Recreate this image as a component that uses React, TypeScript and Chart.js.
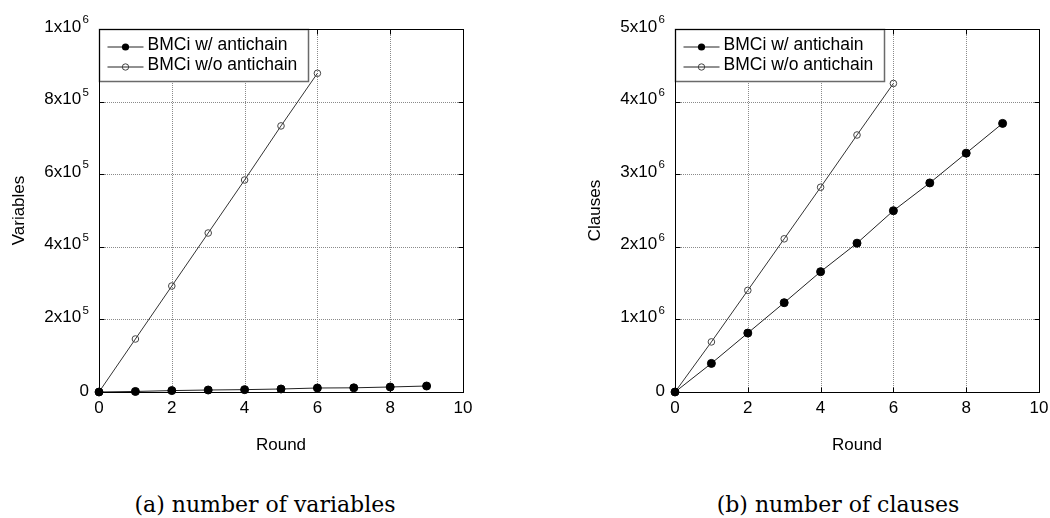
import React, { useEffect, useRef } from 'react';
import { Chart, registerables } from 'chart.js';

Chart.register(...registerables);

// ---- data ----
const roundsWith = [0, 1, 2, 3, 4, 5, 6, 7, 8, 9];
const roundsWithout = [0, 1, 2, 3, 4, 5, 6];
const variablesWith = [0, 1500, 3900, 5500, 6500, 8300, 11000, 11500, 13800, 16500];
const variablesWithout = [0, 146000, 292000, 438000, 584000, 733000, 878000];
const clausesWith = [0, 394000, 812000, 1230000, 1657000, 2050000, 2497000, 2880000, 3290000, 3700000];
const clausesWithout = [0, 690000, 1400000, 2110000, 2820000, 3540000, 4250000];
const xTickValues = [0, 2, 4, 6, 8, 10];
const variablesTickValues = [0, 200000, 400000, 600000, 800000, 1000000];
const clausesTickValues = [0, 1000000, 2000000, 3000000, 4000000, 5000000];
const seriesLabels = ['BMCi w/ antichain', 'BMCi w/o antichain'];
const xTitle = 'Round';
const captions = ['(a) number of variables', '(b) number of clauses'];

const FONT = '"Liberation Sans", Arial, sans-serif';

type PanelCfg = {
  yTitle: string;
  yTicks: number[];
  yMax: number;
  withData: number[];
  withoutData: number[];
};

function splitSci(v: number): [string, string] {
  if (v === 0) return ['0', ''];
  const e = Math.floor(Math.log10(v) + 1e-9);
  const m = Math.round(v / Math.pow(10, e));
  return [`${m}x10`, `${e}`];
}

function makePlugin(cfg: PanelCfg) {
  return {
    id: 'matlabAxes',
    beforeDatasetsDraw(chart: any) {
      const { ctx, chartArea: a, scales } = chart;
      const x = scales.x, y = scales.y;
      ctx.save();
      ctx.strokeStyle = '#8a8a8a';
      ctx.lineWidth = 1;
      ctx.setLineDash([1, 1]);
      for (const t of xTickValues) {
        if (t === 0 || t === 10) continue;
        const px = Math.round(x.getPixelForValue(t)) + 0.5;
        ctx.beginPath();
        ctx.moveTo(px, a.top);
        ctx.lineTo(px, a.bottom);
        ctx.stroke();
      }
      for (const t of cfg.yTicks) {
        if (t === 0 || t === cfg.yMax) continue;
        const py = Math.round(y.getPixelForValue(t)) + 0.5;
        ctx.beginPath();
        ctx.moveTo(a.left, py);
        ctx.lineTo(a.right, py);
        ctx.stroke();
      }
      ctx.restore();
    },
    afterDatasetsDraw(chart: any) {
      const { ctx, chartArea: a, scales } = chart;
      const x = scales.x, y = scales.y;
      const L = Math.round(a.left) + 0.5, R = Math.round(a.right) + 0.5;
      const T = Math.round(a.top) + 0.5, B = Math.round(a.bottom) + 0.5;
      ctx.save();
      ctx.setLineDash([]);
      ctx.strokeStyle = '#000';
      ctx.lineWidth = 1;
      ctx.beginPath();
      for (const t of xTickValues) {
        const px = Math.round(x.getPixelForValue(t)) + 0.5;
        ctx.moveTo(px, B); ctx.lineTo(px, B - 5);
        ctx.moveTo(px, T); ctx.lineTo(px, T + 5);
      }
      for (const t of cfg.yTicks) {
        const py = Math.round(y.getPixelForValue(t)) + 0.5;
        ctx.moveTo(L, py); ctx.lineTo(L + 5, py);
        ctx.moveTo(R, py); ctx.lineTo(R - 5, py);
      }
      ctx.stroke();

      // legend box
      const bx = L, by = T, bw = 209, bh = 52;
      ctx.fillStyle = '#fff';
      ctx.fillRect(bx, by, bw, bh);
      ctx.strokeStyle = '#6a6a6a';
      ctx.lineWidth = 1.5;
      ctx.strokeRect(bx, by, bw, bh);
      ctx.strokeStyle = '#000';
      ctx.lineWidth = 1;
      ctx.strokeRect(L, T, R - L, B - T);
      const rows = [by + 17, by + 37];
      ctx.font = `17.5px ${FONT}`;
      ctx.textBaseline = 'middle';
      ctx.textAlign = 'left';
      chart.data.datasets.forEach((ds: any, i: number) => {
        const ry = rows[i] + 0.5;
        ctx.strokeStyle = '#222';
        ctx.lineWidth = 1;
        ctx.beginPath();
        ctx.moveTo(bx + 8, ry);
        ctx.lineTo(bx + 44, ry);
        ctx.stroke();
        ctx.beginPath();
        ctx.arc(bx + 26, ry, i === 0 ? 3.6 : 3.2, 0, Math.PI * 2);
        if (i === 0) { ctx.fillStyle = '#000'; ctx.fill(); }
        else { ctx.strokeStyle = '#444'; ctx.stroke(); }
        ctx.fillStyle = '#000';
        ctx.fillText(ds.label, bx + 48, rows[i] - 1);
      });
      ctx.restore();
    },
    afterDraw(chart: any) {
      const { ctx, chartArea: a, scales } = chart;
      const x = scales.x, y = scales.y;
      ctx.save();
      ctx.fillStyle = '#000';
      ctx.font = `17px ${FONT}`;
      ctx.textBaseline = 'middle';
      ctx.textAlign = 'center';
      for (const t of xTickValues) {
        ctx.fillText(String(t), x.getPixelForValue(t), a.bottom + 16);
      }
      for (const t of cfg.yTicks) {
        const [base, exp] = splitSci(t);
        const py = y.getPixelForValue(t) - 2;
        const right = a.left - 10;
        ctx.textAlign = 'right';
        if (exp) {
          ctx.font = `11.5px ${FONT}`;
          const ew = ctx.measureText(exp).width;
          ctx.fillText(exp, right, py - 7);
          ctx.font = `17px ${FONT}`;
          ctx.fillText(base, right - ew - 1.5, py);
        } else {
          ctx.font = `17px ${FONT}`;
          ctx.fillText(base, right, py + 1);
        }
      }
      ctx.font = `17px ${FONT}`;
      ctx.textAlign = 'center';
      ctx.fillText(xTitle, (a.left + a.right) / 2, 445);
      ctx.save();
      ctx.translate(a.left - 80, (a.top + a.bottom) / 2);
      ctx.rotate(-Math.PI / 2);
      ctx.fillText(cfg.yTitle, 0, 0);
      ctx.restore();
      ctx.restore();
    },
  };
}

function Panel({ cfg, leftWidth, rightPad }: { cfg: PanelCfg; leftWidth: number; rightPad: number }) {
  const ref = useRef<HTMLCanvasElement>(null);
  useEffect(() => {
    if (!ref.current) return;
    const chart = new Chart(ref.current, {
      type: 'line',
      data: {
        datasets: [
          {
            label: seriesLabels[0],
            data: roundsWith.map((r, i) => ({ x: r, y: cfg.withData[i] })),
            borderColor: '#222',
            borderWidth: 1,
            pointRadius: 4,
            pointBackgroundColor: '#000',
            pointBorderColor: '#000',
            pointBorderWidth: 1,
            clip: false as any,
          },
          {
            label: seriesLabels[1],
            data: roundsWithout.map((r, i) => ({ x: r, y: cfg.withoutData[i] })),
            borderColor: '#333',
            borderWidth: 1,
            pointRadius: 3.3,
            pointBackgroundColor: 'rgba(0,0,0,0)',
            pointBorderColor: '#444',
            pointBorderWidth: 1,
            clip: false as any,
          },
        ],
      },
      options: {
        responsive: false,
        animation: false,
        devicePixelRatio: 1,
        layout: { padding: { top: 29, right: rightPad, left: 0, bottom: 0 } },
        plugins: { legend: { display: false }, tooltip: { enabled: false } },
        scales: {
          x: {
            type: 'linear',
            min: 0,
            max: 10,
            ticks: { display: false, stepSize: 2 },
            grid: { display: false },
            border: { display: false },
            afterFit: (s: any) => { s.height = 470 - 392; },
          },
          y: {
            type: 'linear',
            min: 0,
            max: cfg.yMax,
            ticks: { display: false },
            grid: { display: false },
            border: { display: false },
            afterFit: (s: any) => { s.width = leftWidth; },
          },
        },
      },
      plugins: [makePlugin(cfg)],
    } as any);
    return () => chart.destroy();
  }, []);
  return <canvas ref={ref} width={525} height={470} style={{ display: 'block' }} />;
}

export default function App() {
  const left: PanelCfg = {
    yTitle: 'Variables',
    yTicks: variablesTickValues,
    yMax: 1000000,
    withData: variablesWith,
    withoutData: variablesWithout,
  };
  const right: PanelCfg = {
    yTitle: 'Clauses',
    yTicks: clausesTickValues,
    yMax: 5000000,
    withData: clausesWith,
    withoutData: clausesWithout,
  };
  const capStyle: React.CSSProperties = {
    position: 'absolute',
    top: 493,
    width: 500,
    textAlign: 'center',
    font: '22px "DejaVu Serif", serif',
    lineHeight: '24px',
    color: '#000',
    whiteSpace: 'nowrap',
  };
  return (
    <div style={{ position: 'absolute', left: 0, top: 0, width: 1050, height: 518, background: '#fff', overflow: 'hidden' }}>
      <div style={{ position: 'absolute', left: 0, top: 0 }}>
        <Panel cfg={left} leftWidth={99} rightPad={62} />
      </div>
      <div style={{ position: 'absolute', left: 525, top: 0 }}>
        <Panel cfg={right} leftWidth={150} rightPad={11} />
      </div>
      <div style={{ ...capStyle, left: 265 - 250 }}>{captions[0]}</div>
      <div style={{ ...capStyle, left: 838 - 250 }}>{captions[1]}</div>
    </div>
  );
}
